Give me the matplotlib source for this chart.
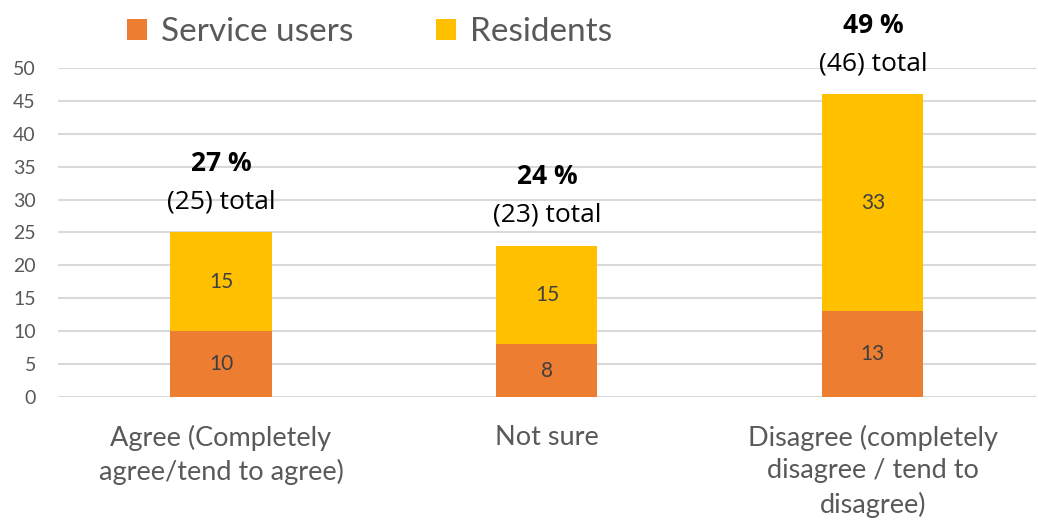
import matplotlib.pyplot as plt
import numpy as np

categories = ["Agree (Completely\nagree/tend to agree)", "Not sure",
              "Disagree (completely\ndisagree / tend to\ndisagree)"]
service_users = [10, 8, 13]
residents = [15, 15, 33]
totals = [25, 23, 46]
percents = [27, 24, 49]

ORANGE = "#ED7D31"
YELLOW = "#FFC000"
GRID = "#D9D9D9"
TEXT = "#595959"

plt.rcParams["font.family"] = ["Lato", "DejaVu Sans"]

fig = plt.figure(figsize=(10.38, 5.23), dpi=100)
ax = fig.add_axes([0.0559, 0.241, 0.942, 0.629])

x = np.arange(len(categories))
w = 0.31
b1 = ax.bar(x, service_users, w, color=ORANGE, label="Service users", zorder=3)
b2 = ax.bar(x, residents, w, bottom=service_users, color=YELLOW, label="Residents", zorder=3)

for i in range(len(x)):
    ax.text(x[i], service_users[i] / 2, str(service_users[i]), ha="center", va="center",
            fontsize=15, color="#404040", zorder=4)
    ax.text(x[i], service_users[i] + residents[i] / 2, str(residents[i]), ha="center",
            va="center", fontsize=15, color="#404040", zorder=4)
    top = service_users[i] + residents[i]
    ax.annotate(f"({totals[i]}) total", (x[i], top), xytext=(0, 13), textcoords="offset points",
                ha="center", va="bottom", fontsize=19, family="Open Sans", color="black",
                annotation_clip=False)
    ax.annotate(f"{percents[i]} %", (x[i], top), xytext=(0, 40), textcoords="offset points",
                ha="center", va="bottom", fontsize=19, family="Open Sans", fontweight="bold",
                color="black", annotation_clip=False)

ax.set_xlim(-0.5, 2.5)
ax.set_ylim(0, 50)
ax.set_yticks(np.arange(0, 51, 5))
ax.set_xticks(x)
ax.set_xticklabels(categories, fontsize=19.5, color=TEXT, linespacing=1.38, va="top")
ax.tick_params(axis="y", length=0, pad=16, labelsize=14, labelcolor=TEXT)
ax.tick_params(axis="x", length=0, pad=20)
ax.yaxis.grid(True, color=GRID, linewidth=1.5, zorder=0)
ax.set_axisbelow(True)
for s in ax.spines.values():
    s.set_visible(False)

fig.legend(handles=[b1, b2], loc="center", bbox_to_anchor=(0.356, 0.939), ncol=2,
           frameon=False, fontsize=24, labelcolor=TEXT, handlelength=0.6, handleheight=0.6,
           columnspacing=2.5, handletextpad=0.4)

fig.savefig("out.png", dpi=100)
